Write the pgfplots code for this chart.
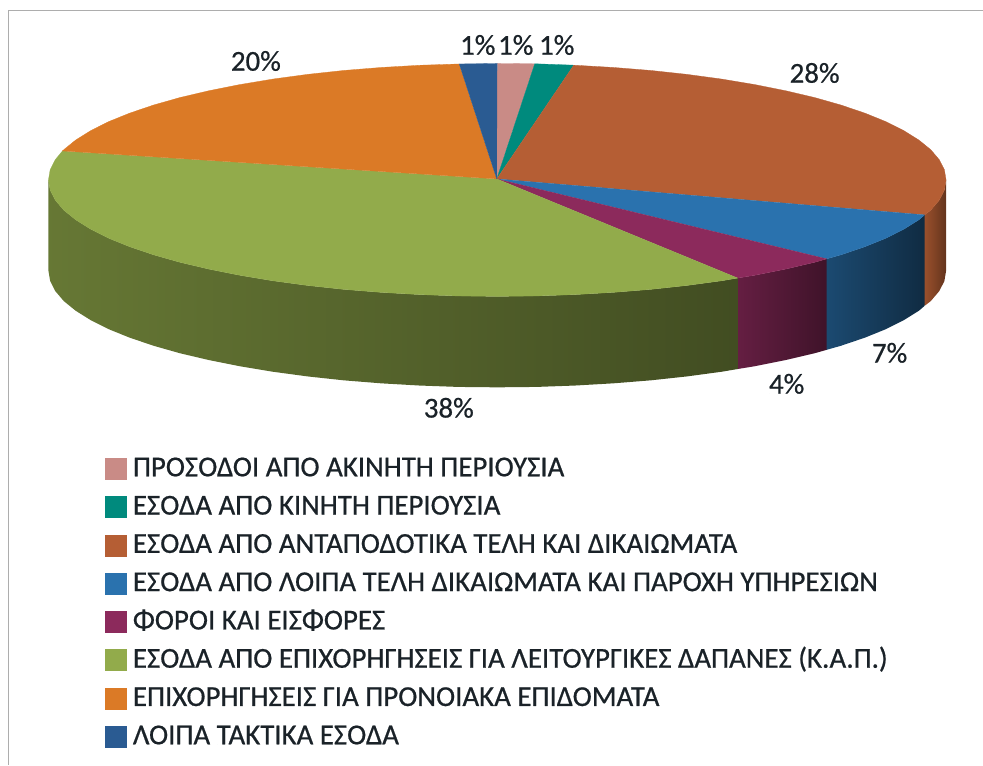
\documentclass[border=0pt]{standalone}
\usepackage{fontspec}
\setmainfont{Carlito}
\newfontfamily\lf[FakeBold=0.6]{Carlito}
\usepackage{pgfplots}
\pgfplotsset{compat=1.18}
\definecolor{cpink}{HTML}{C98B86}
\definecolor{cteal}{HTML}{008A7D}
\definecolor{cbrown}{HTML}{B55E34}
\definecolor{cblue}{HTML}{2A72AE}
\definecolor{cpurple}{HTML}{8C2A5C}
\definecolor{cgreen}{HTML}{92AB4B}
\definecolor{corange}{HTML}{DB7A26}
\definecolor{cdkblue}{HTML}{2A5B92}
\definecolor{ctext}{HTML}{1A2228}
\begin{document}
\begin{tikzpicture}
\begin{axis}[
  hide axis, scale only axis, width=983bp, height=765bp,
  xmin=0, xmax=983, ymin=0, ymax=765, y dir=reverse, clip=false, no markers,
  top/.style={fill=#1, draw=#1, line width=0.3pt, forget plot},
  wall/.style 2 args={shade, shading=axis, left color=#1, right color=#2, draw=none, forget plot},
  legend cell align=left,
  legend style={at={(axis cs:105,450)}, anchor=north west, draw=none, fill=none,
    font=\lf\fontsize{29}{29}\selectfont\color{ctext},
    row sep=0bp, inner sep=0pt, outer sep=0pt,
    nodes={inner sep=0pt, outer sep=0pt, text height=26.5bp, text depth=11.8bp},
    /tikz/column 1/.style={column sep=6bp}},
  legend image code/.code={\fill[#1,draw=none] (0bp,-11bp) rectangle (22bp,11bp);},
]
% page extent
\path (axis cs:0,0) -- (axis cs:983,765);
% frame
\addplot[forget plot, draw=black!32, line width=0.9pt] coordinates {(983,10) (8,10) (8,765)};
% walls
\addplot[wall={cbrown!85!black}{cbrown!55!black}] coordinates {(925,215)(931.2,210.2)(939.7,200.2)(944.8,190.2)(946.5,180)(946.5,271)(944.8,281.2)(939.7,291.2)(931.2,301.2)(925,306)};
\addplot[wall={cblue!65!black}{cblue!38!black}] coordinates {(925,215)(919.4,219.8)(904.4,229.2)(886.3,238.3)(865.3,246.8)(841.4,254.9)(827,259)(827,350)(841.4,345.9)(865.3,337.8)(886.3,329.3)(904.4,320.2)(919.4,310.8)(925,306)};
\addplot[wall={cpurple!72!black}{cpurple!45!black}] coordinates {(827,259)(815,262.4)(786.1,269.2)(755,275.4)(738,278.2)(738,369.2)(755,366.4)(786.1,360.2)(815,353.4)(827,350)};
\addplot[wall={cgreen!70!black}{cgreen!45!black}] coordinates {(738,278.2)(722,280.9)(687.2,285.6)(651.1,289.5)(613.7,292.5)(575.4,294.7)(536.6,296.1)(497.5,296.5)(458.4,296.1)(419.6,294.7)(381.3,292.5)(343.9,289.5)(307.8,285.6)(273,280.9)(240,275.4)(208.9,269.2)(180,262.4)(153.6,254.9)(129.7,246.8)(108.7,238.3)(90.6,229.2)(75.6,219.8)(63.8,210.2)(55.3,200.2)(50.2,190.2)(48.5,180)(48.5,271)(50.2,281.2)(55.3,291.2)(63.8,301.2)(75.6,310.8)(90.6,320.2)(108.7,329.3)(129.7,337.8)(153.6,345.9)(180,353.4)(208.9,360.2)(240,366.4)(273,371.9)(307.8,376.6)(343.9,380.5)(381.3,383.5)(419.6,385.7)(458.4,387.1)(497.5,387.5)(536.6,387.1)(575.4,385.7)(613.7,383.5)(651.1,380.5)(687.2,376.6)(722,371.9)(738,369.2)};
% tops
\addplot[top=cpink] coordinates {(497,179)(497.5,63.5)(535,63.8)};
\addplot[top=cteal] coordinates {(497,179)(535,63.8)(574,65.2)};
\addplot[top=cbrown] coordinates {(497,179)(574,65.2)(613.7,67.5)(651.1,70.5)(687.2,74.4)(722,79.1)(755,84.6)(786.1,90.8)(815,97.6)(841.4,105.1)(865.3,113.2)(886.3,121.7)(904.4,130.8)(919.4,140.2)(931.2,149.8)(939.7,159.8)(944.8,169.8)(946.5,180)(944.8,190.2)(939.7,200.2)(931.2,210.2)(925,215)};
\addplot[top=cblue] coordinates {(497,179)(925,215)(919.4,219.8)(904.4,229.2)(886.3,238.3)(865.3,246.8)(841.4,254.9)(827,259)};
\addplot[top=cpurple] coordinates {(497,179)(827,259)(815,262.4)(786.1,269.2)(755,275.4)(738,278.2)};
\addplot[top=cgreen] coordinates {(497,179)(738,278.2)(722,280.9)(687.2,285.6)(651.1,289.5)(613.7,292.5)(575.4,294.7)(536.6,296.1)(497.5,296.5)(458.4,296.1)(419.6,294.7)(381.3,292.5)(343.9,289.5)(307.8,285.6)(273,280.9)(240,275.4)(208.9,269.2)(180,262.4)(153.6,254.9)(129.7,246.8)(108.7,238.3)(90.6,229.2)(75.6,219.8)(63.8,210.2)(55.3,200.2)(50.2,190.2)(48.5,180)(50.2,169.8)(55.3,159.8)(62.5,151)};
\addplot[top=corange] coordinates {(497,179)(62.5,151)(63.8,149.8)(75.6,140.2)(90.6,130.8)(108.7,121.7)(129.7,113.2)(153.6,105.1)(180,97.6)(208.9,90.8)(240,84.6)(273,79.1)(307.8,74.4)(343.9,70.5)(381.3,67.5)(419.6,65.3)(459.5,64)};
\addplot[top=cdkblue] coordinates {(497,179)(459.5,64)(497.5,63.5)};
% legend
\addlegendimage{fill=cpink}\addlegendentry{ΠΡΟΣΟΔΟΙ ΑΠΟ ΑΚΙΝΗΤΗ ΠΕΡΙΟΥΣΙΑ}
\addlegendimage{fill=cteal}\addlegendentry{ΕΣΟΔΑ ΑΠΟ ΚΙΝΗΤΗ ΠΕΡΙΟΥΣΙΑ}
\addlegendimage{fill=cbrown}\addlegendentry{ΕΣΟΔΑ ΑΠΟ ΑΝΤΑΠΟΔΟΤΙΚΑ ΤΕΛΗ ΚΑΙ ΔΙΚΑΙΩΜΑΤΑ}
\addlegendimage{fill=cblue}\addlegendentry{ΕΣΟΔΑ ΑΠΟ ΛΟΙΠΑ ΤΕΛΗ ΔΙΚΑΙΩΜΑΤΑ ΚΑΙ ΠΑΡΟΧΗ ΥΠΗΡΕΣΙΩΝ}
\addlegendimage{fill=cpurple}\addlegendentry{ΦΟΡΟΙ ΚΑΙ ΕΙΣΦΟΡΕΣ}
\addlegendimage{fill=cgreen}\addlegendentry{ΕΣΟΔΑ ΑΠΟ ΕΠΙΧΟΡΗΓΗΣΕΙΣ ΓΙΑ ΛΕΙΤΟΥΡΓΙΚΕΣ ΔΑΠΑΝΕΣ (Κ.Α.Π.)}
\addlegendimage{fill=corange}\addlegendentry{ΕΠΙΧΟΡΗΓΗΣΕΙΣ ΓΙΑ ΠΡΟΝΟΙΑΚΑ ΕΠΙΔΟΜΑΤΑ}
\addlegendimage{fill=cdkblue}\addlegendentry{ΛΟΙΠΑ ΤΑΚΤΙΚΑ ΕΣΟΔΑ}
% labels
\tikzset{lab/.style={font=\lf\fontsize{29}{29}\selectfont, text=ctext, inner sep=0pt, anchor=center}}
\node[lab] at (axis cs:256,61) {20\%};
\node[lab] at (axis cs:478,45) {1\%};
\node[lab] at (axis cs:516,45) {1\%};
\node[lab] at (axis cs:557,45) {1\%};
\node[lab] at (axis cs:815,73) {28\%};
\node[lab] at (axis cs:890,353) {7\%};
\node[lab] at (axis cs:787,384) {4\%};
\node[lab] at (axis cs:449,408) {38\%};
\end{axis}
\end{tikzpicture}
\end{document}
